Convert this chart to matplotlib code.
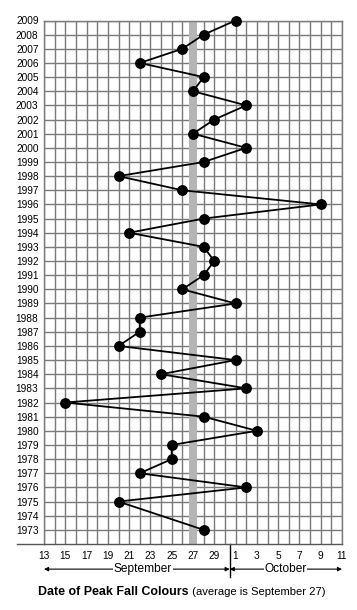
import matplotlib
matplotlib.use("Agg")
import matplotlib.pyplot as plt
import numpy as np

plt.rcParams['font.family'] = ['Liberation Sans', 'DejaVu Sans']

# Data: day of peak colour (Sept day number; Oct 1 = 31)
years = [2009, 2008, 2007, 2006, 2005, 2004, 2003, 2002, 2001, 2000,
         1999, 1998, 1997, 1996, 1995, 1994, 1993, 1992, 1991, 1990,
         1989, 1988, 1987, 1986, 1985, 1984, 1983, 1982, 1981, 1980,
         1979, 1978, 1977, 1976, 1975, 1973]
peak_day = [31, 28, 26, 22, 28, 27, 32, 29, 27, 32,
            28, 20, 26, 39, 28, 21, 28, 29, 28, 26,
            31, 22, 22, 20, 31, 24, 32, 15, 28, 33,
            25, 25, 22, 32, 20, 28]
average_day = 27
year_labels = list(range(1973, 2010))
tick_days = [13, 15, 17, 19, 21, 23, 25, 27, 29, 31, 33, 35, 37, 39, 41]
tick_labels = ['13', '15', '17', '19', '21', '23', '25', '27', '29',
               '1', '3', '5', '7', '9', '11']

fig = plt.figure(figsize=(3.57, 6.10), dpi=100)
ax = fig.add_axes([44/357, 1-544/610, 298/357, 523.5/610])

ax.set_xlim(13, 41)
ax.set_ylim(1972, 2009)

# grid
ax.set_yticks(year_labels)
ax.set_xticks(np.arange(13, 42))
ax.grid(True, color='#7a7a7a', linewidth=1.0, zorder=1)
for s in ax.spines.values():
    s.set_color('#7a7a7a')
    s.set_linewidth(1.0)
ax.spines['bottom'].set_color('#555555')

# average band
ax.axvspan(average_day - 0.4, average_day + 0.4, color='#b5b5b5', zorder=2, lw=0)

ax.plot(peak_day, years, color='black', lw=1.3, marker='o', markersize=6.8,
        zorder=3, clip_on=False)

# tick labels
ax.set_xticklabels([tick_labels[tick_days.index(d)] if d in tick_days else '' for d in range(13, 42)],
                   fontsize=7.3)
ax.set_yticklabels([str(y) for y in year_labels], fontsize=7.3)
ax.tick_params(axis='both', length=0)
ax.tick_params(axis='y', pad=4)
ax.tick_params(axis='x', pad=5)

# bottom line extension to left
ax.plot([-0.09, 0], [0, 0], transform=ax.transAxes, color='#555555', lw=1.0, clip_on=False)

# month divider
trans = matplotlib.transforms.blended_transform_factory(ax.transData, ax.transAxes)
ax.plot([30.45, 30.45], [0, -0.063], transform=trans, color='black', lw=1.0, clip_on=False)

ya = -0.048
for x0, x1, label, xc in [(13, 30.45, 'September', 22.3), (30.45, 41, 'October', 35.7)]:
    ax.annotate('', xy=(x0, ya), xytext=(x1, ya), xycoords=trans, textcoords=trans,
                arrowprops=dict(arrowstyle='<|-|>', lw=0.8, color='black',
                                mutation_scale=6, shrinkA=0, shrinkB=0))
    ax.text(xc, ya, label, transform=trans, ha='center', va='center', fontsize=8.6,
            bbox=dict(facecolor='white', edgecolor='none', pad=0.5))

fig.text(189/357, 1-592/610, 'Date of Peak Fall Colours', ha='right', va='center',
         fontsize=8.9, fontweight='bold')
fig.text(189/357, 1-592/610, ' (average is September 27)', ha='left', va='center',
         fontsize=8.1)

fig.savefig('out.png', dpi=100)
